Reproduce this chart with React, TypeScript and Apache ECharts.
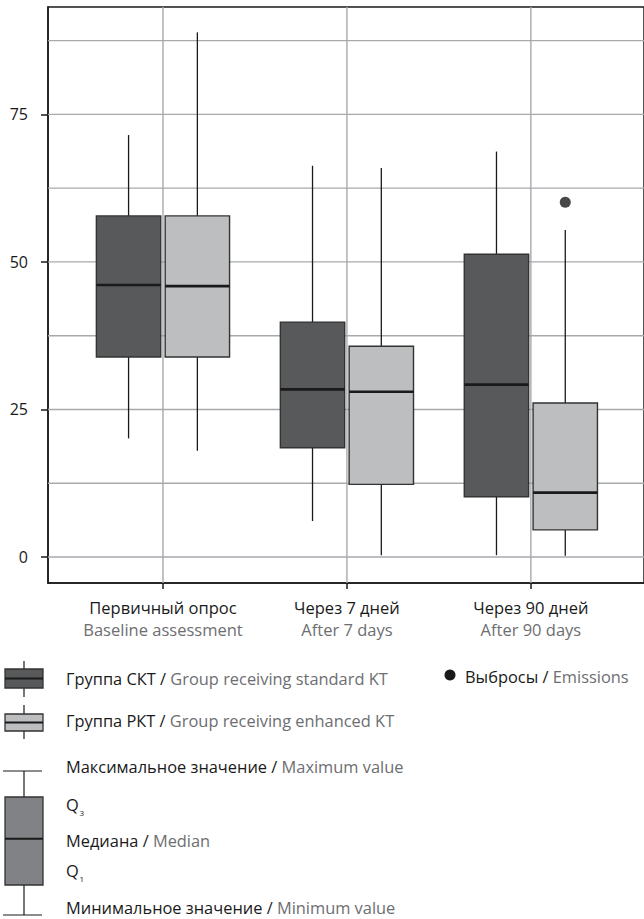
import React, { useEffect, useRef } from 'react';
import * as echarts from 'echarts';

const categoriesRu = ['Первичный опрос', 'Через 7 дней', 'Через 90 дней'];
const categoriesEn = ['Baseline assessment', 'After 7 days', 'After 90 days'];
const categoryIndex = [0, 1, 2];
const yTickLabels = [0, 25, 50, 75];
const gridLevels = [0, 12.5, 25, 37.5, 50, 62.5, 75, 87.5];

// [min, Q1, median, Q3, max] per time point
const sktStats = [
  [20.1, 33.9, 46.1, 57.8, 71.5],
  [6.1, 18.5, 28.4, 39.8, 66.3],
  [0.3, 10.2, 29.2, 51.3, 68.7],
];
const rktStats = [
  [18.0, 33.9, 45.9, 57.8, 88.9],
  [0.3, 12.3, 28.0, 35.7, 65.9],
  [0.2, 4.6, 10.9, 26.1, 55.4],
];
// [time point index, value]
const rktOutliers = [[2, 60.1]];

const groupLegendRu = ['Группа СКТ', 'Группа РКТ'];
const groupLegendEn = ['Group receiving standard KT', 'Group receiving enhanced KT'];
const outlierLegendRu = 'Выбросы';
const outlierLegendEn = 'Emissions';
const schemeMaxRu = 'Максимальное значение';
const schemeMaxEn = 'Maximum value';
const schemeMedRu = 'Медиана';
const schemeMedEn = 'Median';
const schemeMinRu = 'Минимальное значение';
const schemeMinEn = 'Minimum value';

const FONT = '"Open Sans", "Noto Sans", sans-serif';
const LEGEND_FONT_SIZE = 16.4;
const INK = '#1a1a1a';
const GREY_TEXT = '#6d6e71';
const DARK_FILL = '#58595b';
const LIGHT_FILL = '#bcbec0';
const SCHEME_FILL = '#808285';
const BORDER = '#333333';
const GRID_LINE = '#a7a9ac';
const BOX_WIDTH = 0.35;
const GROUP_OFFSET = 0.187;

function boxRenderer(offset: number, fill: string) {
  return (params: any, api: any) => {
    const x = api.value(0) + offset;
    const pMin = api.coord([x, api.value(1)]);
    const pQ1 = api.coord([x, api.value(2)]);
    const pMed = api.coord([x, api.value(3)]);
    const pQ3 = api.coord([x, api.value(4)]);
    const pMax = api.coord([x, api.value(5)]);
    const w = api.size([BOX_WIDTH, 0])[0];
    const cx = pMin[0];
    return {
      type: 'group',
      children: [
        { type: 'line', shape: { x1: cx, y1: pMax[1], x2: cx, y2: pQ3[1] }, style: { stroke: INK, lineWidth: 1.3 } },
        { type: 'line', shape: { x1: cx, y1: pQ1[1], x2: cx, y2: pMin[1] }, style: { stroke: INK, lineWidth: 1.3 } },
        {
          type: 'rect',
          shape: { x: cx - w / 2, y: pQ3[1], width: w, height: pQ1[1] - pQ3[1] },
          style: { fill, stroke: BORDER, lineWidth: 1.4 },
        },
        {
          type: 'line',
          shape: { x1: cx - w / 2, y1: pMed[1], x2: cx + w / 2, y2: pMed[1] },
          style: { stroke: INK, lineWidth: 2.6 },
        },
      ],
    };
  };
}

function legendText(x: number, y: number, ru: string, en: string) {
  return {
    type: 'text',
    x,
    y,
    style: {
      text: `{a|${ru} / }{b|${en}}`,
      verticalAlign: 'middle',
      align: 'left',
      rich: {
        a: { fontFamily: FONT, fontSize: LEGEND_FONT_SIZE, lineHeight: 16, fill: INK },
        b: { fontFamily: FONT, fontSize: LEGEND_FONT_SIZE, lineHeight: 16, fill: GREY_TEXT },
      },
    },
  };
}

// "Q" with a subscript index drawn just below its baseline
function quartileText(x: number, y: number, sub: string) {
  return [
    {
      type: 'text',
      x,
      y,
      style: { text: 'Q', fontFamily: FONT, fontSize: LEGEND_FONT_SIZE, fill: INK, verticalAlign: 'middle', align: 'left' },
    },
    {
      type: 'text',
      x: x + 13.5,
      y: y + 8.5,
      style: { text: sub, fontFamily: FONT, fontSize: 8, fill: INK, verticalAlign: 'middle', align: 'left' },
    },
  ];
}

function boxIcon(top: number, bottom: number, boxTop: number, boxBottom: number, fill: string) {
  const mid = (boxTop + boxBottom) / 2;
  return [
    { type: 'line', shape: { x1: 24, y1: top, x2: 24, y2: bottom }, style: { stroke: INK, lineWidth: 1.2 } },
    { type: 'rect', shape: { x: 5, y: boxTop, width: 38, height: boxBottom - boxTop }, style: { fill, stroke: BORDER, lineWidth: 1.3 } },
    { type: 'line', shape: { x1: 5, y1: mid, x2: 43, y2: mid }, style: { stroke: INK, lineWidth: 2 } },
  ];
}

export default function App() {
  const ref = useRef<HTMLDivElement>(null);

  useEffect(() => {
    if (!ref.current) return;
    const chart = echarts.init(ref.current, undefined, { renderer: 'svg' });

    const option: any = {
      animation: false,
      backgroundColor: '#ffffff',
      grid: {
        left: 48,
        top: 7,
        right: -5,
        bottom: 336,
        show: true,
        borderColor: INK,
        borderWidth: 1.5,
        backgroundColor: 'transparent',
      },
      xAxis: {
        type: 'value',
        min: -0.625,
        max: 2.615,
        axisLine: { show: true, onZero: false, lineStyle: { color: INK, width: 1.5 } },
        axisTick: { show: true, customValues: categoryIndex, length: 6, lineStyle: { color: INK, width: 1.5 } },
        splitLine: { show: false },
        axisLabel: {
          customValues: categoryIndex,
          margin: 13,
          formatter: (v: number) => `{a|${categoriesRu[v]}}\n{b|${categoriesEn[v]}}`,
          rich: {
            a: { fontFamily: FONT, fontSize: 16.5, color: INK, lineHeight: 22 },
            b: { fontFamily: FONT, fontSize: 16.5, color: GREY_TEXT, lineHeight: 22 },
          },
        },
      },
      yAxis: {
        type: 'value',
        min: -4.41,
        max: 93.2,
        axisLine: { show: true, onZero: false, lineStyle: { color: INK, width: 1.5 } },
        axisTick: { show: true, customValues: yTickLabels, length: 7, lineStyle: { color: INK, width: 1.5 } },
        splitLine: { show: false },
        axisLabel: {
          customValues: yTickLabels,
          margin: 20,
          fontFamily: FONT,
          fontSize: 16,
          color: INK,
        },
      },
      series: [
        {
          name: 'horizontal grid',
          type: 'custom',
          z: 1,
          silent: true,
          encode: { x: 0, y: 1 },
          data: gridLevels.map((v) => [0, v]),
          renderItem: (params: any, api: any) => {
            const y = api.coord([0, api.value(1)])[1];
            const cs = params.coordSys;
            return {
              type: 'line',
              shape: { x1: cs.x, y1: y, x2: cs.x + cs.width, y2: y },
              style: { stroke: GRID_LINE, lineWidth: 1.4 },
            };
          },
        },
        {
          name: 'vertical grid',
          type: 'custom',
          z: 1,
          silent: true,
          encode: { x: 0, y: 1 },
          data: categoryIndex.map((c) => [c, 0]),
          renderItem: (params: any, api: any) => {
            const x = api.coord([api.value(0), 0])[0];
            const cs = params.coordSys;
            return {
              type: 'line',
              shape: { x1: x, y1: cs.y, x2: x, y2: cs.y + cs.height },
              style: { stroke: GRID_LINE, lineWidth: 1.4 },
            };
          },
        },
        {
          name: groupLegendRu[0],
          type: 'custom',
          z: 3,
          encode: { x: 0, y: [1, 2, 3, 4, 5] },
          data: sktStats.map((s, i) => [i, ...s]),
          renderItem: boxRenderer(-GROUP_OFFSET, DARK_FILL),
        },
        {
          name: groupLegendRu[1],
          type: 'custom',
          z: 3,
          encode: { x: 0, y: [1, 2, 3, 4, 5] },
          data: rktStats.map((s, i) => [i, ...s]),
          renderItem: boxRenderer(GROUP_OFFSET, LIGHT_FILL),
        },
        {
          name: outlierLegendRu,
          type: 'scatter',
          z: 4,
          symbol: 'circle',
          symbolSize: 11,
          itemStyle: { color: INK },
          data: rktOutliers.map(([c, v]) => [c + GROUP_OFFSET, v]),
        },
      ],
      graphic: [
        ...boxIcon(661, 697, 669, 688, DARK_FILL),
        legendText(66, 678, groupLegendRu[0], groupLegendEn[0]),
        ...boxIcon(705, 739, 714, 731, LIGHT_FILL),
        legendText(66, 720.5, groupLegendRu[1], groupLegendEn[1]),
        { type: 'circle', shape: { cx: 450, cy: 675, r: 5.5 }, style: { fill: INK } },
        legendText(465, 676, outlierLegendRu, outlierLegendEn),
        // box anatomy scheme
        { type: 'line', shape: { x1: 3, y1: 771, x2: 42, y2: 771 }, style: { stroke: INK, lineWidth: 1.2 } },
        { type: 'line', shape: { x1: 24, y1: 771, x2: 24, y2: 797 }, style: { stroke: INK, lineWidth: 1.2 } },
        { type: 'rect', shape: { x: 5, y: 797, width: 38, height: 88 }, style: { fill: SCHEME_FILL, stroke: BORDER, lineWidth: 1.3 } },
        { type: 'line', shape: { x1: 5, y1: 838.7, x2: 43, y2: 838.7 }, style: { stroke: INK, lineWidth: 2 } },
        { type: 'line', shape: { x1: 24, y1: 885, x2: 24, y2: 915 }, style: { stroke: INK, lineWidth: 1.2 } },
        { type: 'line', shape: { x1: 3, y1: 915, x2: 42, y2: 915 }, style: { stroke: INK, lineWidth: 1.2 } },
        legendText(66, 766, schemeMaxRu, schemeMaxEn),
        ...quartileText(66, 804, '3'),
        legendText(66, 840, schemeMedRu, schemeMedEn),
        ...quartileText(66, 870, '1'),
        legendText(66, 907.5, schemeMinRu, schemeMinEn),
      ],
    };

    chart.setOption(option);
    return () => chart.dispose();
  }, []);

  return (
    <div
      ref={ref}
      style={{ position: 'absolute', left: 0, top: 0, width: 644, height: 919, background: '#fff' }}
    />
  );
}
